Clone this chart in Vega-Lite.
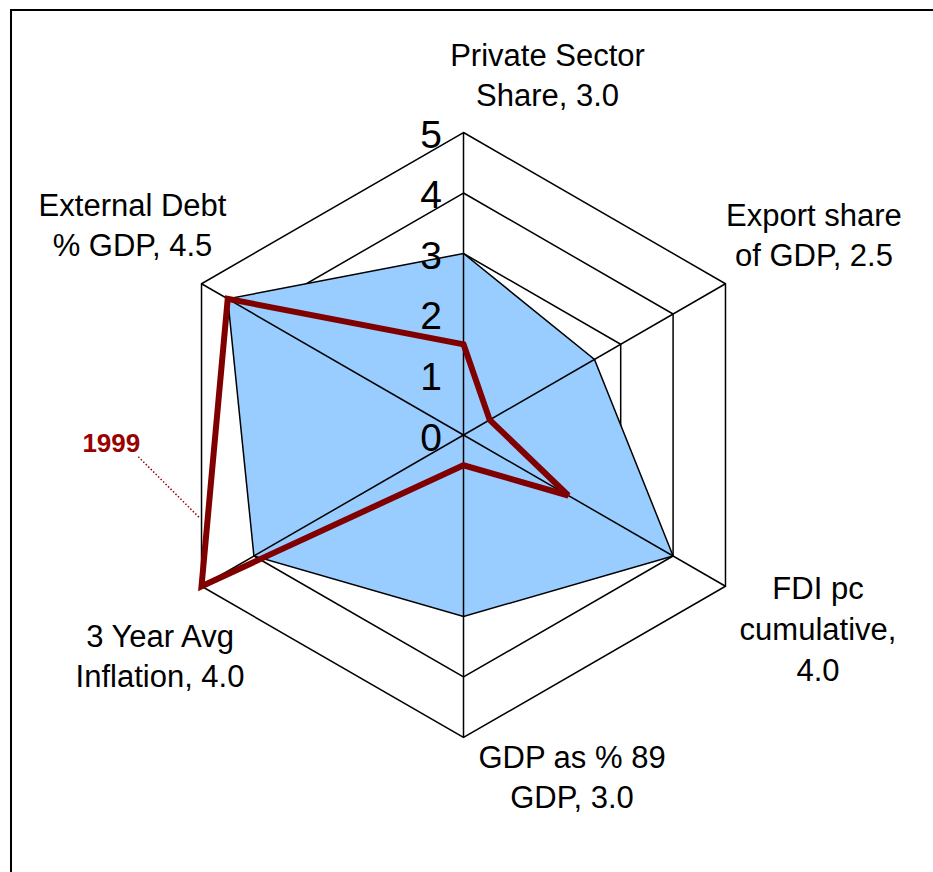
{
  "$schema": "https://vega.github.io/schema/vega-lite/v6.json",
  "width": 933,
  "height": 872,
  "autosize": "none",
  "padding": 0,
  "background": "white",
  "config": {"view": {"stroke": null}, "font": "Liberation Sans", "text": {"font": "Liberation Sans"}},
  "datasets": {
    "axes": [
      {"k": 0, "axis": "Private Sector Share", "label": "Private Sector\nShare, 3.0", "score": 3.0, "y1999": 1.5},
      {"k": 1, "axis": "Export share of GDP", "label": "Export share\nof GDP, 2.5", "score": 2.5, "y1999": 0.5},
      {"k": 2, "axis": "FDI pc cumulative", "label": "FDI pc\ncumulative,\n4.0", "score": 4.0, "y1999": 2.0},
      {"k": 3, "axis": "GDP as % 89 GDP", "label": "GDP as % 89\nGDP, 3.0", "score": 3.0, "y1999": 0.5},
      {"k": 4, "axis": "3 Year Avg Inflation", "label": "3 Year Avg\nInflation, 4.0", "score": 4.0, "y1999": 5.0},
      {"k": 5, "axis": "External Debt % GDP", "label": "External Debt\n% GDP, 4.5", "score": 4.5, "y1999": 4.5}
    ],
    "grid": [
      {"level": 1, "k": [0, 1, 2, 3, 4, 5]},
      {"level": 2, "k": [0, 1, 2, 3, 4, 5]},
      {"level": 3, "k": [0, 1, 2, 3, 4, 5]},
      {"level": 4, "k": [0, 1, 2, 3, 4, 5]},
      {"level": 5, "k": [0, 1, 2, 3, 4, 5]}
    ],
    "ticks": [{"tick": 0}, {"tick": 1}, {"tick": 2}, {"tick": 3}, {"tick": 4}, {"tick": 5}],
    "annotation": [{"series": "1999", "x1": -5.375, "y1": -0.359, "x2": -4.355, "y2": -1.377}],
    "frame": [{"left": -7.479, "top": 7.025, "right": 9, "bottom": -9}]
  },
  "layer": [
    {
      "data": {"name": "frame"},
      "mark": {"type": "rect", "fillOpacity": 0, "stroke": "#000000", "strokeWidth": 2},
      "encoding": {
        "x": {"field": "left", "type": "quantitative", "scale": {"domain": [-7.661, 7.76], "nice": false, "zero": false}, "axis": null},
        "x2": {"field": "right"},
        "y": {"field": "top", "type": "quantitative", "scale": {"domain": [-7.223, 7.19], "nice": false, "zero": false}, "axis": null},
        "y2": {"field": "bottom"}
      }
    },
    {
      "data": {"name": "grid"},
      "transform": [
        {"flatten": ["k"]},
        {"calculate": "PI/2 - datum.k*PI/3", "as": "a"},
        {"calculate": "datum.level*cos(datum.a)", "as": "x"},
        {"calculate": "datum.level*sin(datum.a)", "as": "y"}
      ],
      "mark": {"type": "line", "interpolate": "linear-closed", "color": "#000000", "strokeWidth": 1.5},
      "encoding": {
        "x": {"field": "x", "type": "quantitative", "scale": {"domain": [-7.661, 7.76], "nice": false, "zero": false}, "axis": null},
        "y": {"field": "y", "type": "quantitative", "scale": {"domain": [-7.223, 7.19], "nice": false, "zero": false}, "axis": null},
        "detail": {"field": "level", "type": "nominal"},
        "order": {"field": "k", "type": "quantitative"}
      }
    },
    {
      "data": {"name": "axes"},
      "transform": [
        {"calculate": "PI/2 - datum.k*PI/3", "as": "a"},
        {"calculate": "datum.score*cos(datum.a)", "as": "x"},
        {"calculate": "datum.score*sin(datum.a)", "as": "y"}
      ],
      "mark": {"type": "line", "interpolate": "linear-closed", "fill": "#99CCFF", "stroke": "#000000", "strokeWidth": 1.5},
      "encoding": {
        "x": {"field": "x", "type": "quantitative", "scale": {"domain": [-7.661, 7.76], "nice": false, "zero": false}, "axis": null},
        "y": {"field": "y", "type": "quantitative", "scale": {"domain": [-7.223, 7.19], "nice": false, "zero": false}, "axis": null},
        "order": {"field": "k", "type": "quantitative"}
      }
    },
    {
      "data": {"name": "axes"},
      "transform": [
        {"calculate": "PI/2 - datum.k*PI/3", "as": "a"},
        {"calculate": "5*cos(datum.a)", "as": "x"},
        {"calculate": "5*sin(datum.a)", "as": "y"},
        {"calculate": "0", "as": "cx"},
        {"calculate": "0", "as": "cy"}
      ],
      "mark": {"type": "rule", "color": "#000000", "strokeWidth": 1.5},
      "encoding": {
        "x": {"field": "cx", "type": "quantitative", "scale": {"domain": [-7.661, 7.76], "nice": false, "zero": false}, "axis": null},
        "y": {"field": "cy", "type": "quantitative", "scale": {"domain": [-7.223, 7.19], "nice": false, "zero": false}, "axis": null},
        "x2": {"field": "x"},
        "y2": {"field": "y"}
      }
    },
    {
      "data": {"name": "axes"},
      "transform": [
        {"calculate": "PI/2 - datum.k*PI/3", "as": "a"},
        {"calculate": "datum.y1999*cos(datum.a)", "as": "x"},
        {"calculate": "datum.y1999*sin(datum.a)", "as": "y"}
      ],
      "mark": {"type": "line", "interpolate": "linear-closed", "color": "#800000", "strokeWidth": 6, "strokeJoin": "miter"},
      "encoding": {
        "x": {"field": "x", "type": "quantitative", "scale": {"domain": [-7.661, 7.76], "nice": false, "zero": false}, "axis": null},
        "y": {"field": "y", "type": "quantitative", "scale": {"domain": [-7.223, 7.19], "nice": false, "zero": false}, "axis": null},
        "order": {"field": "k", "type": "quantitative"}
      }
    },
    {
      "data": {"name": "ticks"},
      "transform": [{"calculate": "0", "as": "cx"}],
      "mark": {"type": "text", "align": "right", "baseline": "alphabetic", "dx": -21.5, "dy": 15.5, "fontSize": 39, "color": "#000000"},
      "encoding": {
        "x": {"field": "cx", "type": "quantitative", "scale": {"domain": [-7.661, 7.76], "nice": false, "zero": false}, "axis": null},
        "y": {"field": "tick", "type": "quantitative", "scale": {"domain": [-7.223, 7.19], "nice": false, "zero": false}, "axis": null},
        "text": {"field": "tick", "type": "quantitative", "format": "d"}
      }
    },
    {
      "data": {"name": "axes"},
      "transform": [
        {"filter": "datum.k == 0"},
        {"calculate": "PI/2 - datum.k*PI/3", "as": "a"},
        {"calculate": "5*cos(datum.a)", "as": "x"},
        {"calculate": "5*sin(datum.a)", "as": "y"}
      ],
      "mark": {"type": "text", "align": "center", "baseline": "alphabetic", "lineBreak": "\n", "lineHeight": 40, "fontSize": 31, "color": "#000000", "dx": 84, "dy": -66.8},
      "encoding": {
        "x": {"field": "x", "type": "quantitative", "scale": {"domain": [-7.661, 7.76], "nice": false, "zero": false}, "axis": null},
        "y": {"field": "y", "type": "quantitative", "scale": {"domain": [-7.223, 7.19], "nice": false, "zero": false}, "axis": null},
        "text": {"field": "label", "type": "nominal"}
      }
    },
    {
      "data": {"name": "axes"},
      "transform": [
        {"filter": "datum.k == 1"},
        {"calculate": "PI/2 - datum.k*PI/3", "as": "a"},
        {"calculate": "5*cos(datum.a)", "as": "x"},
        {"calculate": "5*sin(datum.a)", "as": "y"}
      ],
      "mark": {"type": "text", "align": "center", "baseline": "alphabetic", "lineBreak": "\n", "lineHeight": 40, "fontSize": 31, "color": "#000000", "dx": 88.5, "dy": -57.75},
      "encoding": {
        "x": {"field": "x", "type": "quantitative", "scale": {"domain": [-7.661, 7.76], "nice": false, "zero": false}, "axis": null},
        "y": {"field": "y", "type": "quantitative", "scale": {"domain": [-7.223, 7.19], "nice": false, "zero": false}, "axis": null},
        "text": {"field": "label", "type": "nominal"}
      }
    },
    {
      "data": {"name": "axes"},
      "transform": [
        {"filter": "datum.k == 2"},
        {"calculate": "PI/2 - datum.k*PI/3", "as": "a"},
        {"calculate": "5*cos(datum.a)", "as": "x"},
        {"calculate": "5*sin(datum.a)", "as": "y"}
      ],
      "mark": {"type": "text", "align": "center", "baseline": "alphabetic", "lineBreak": "\n", "lineHeight": 41, "fontSize": 31, "color": "#000000", "dx": 92.5, "dy": 13},
      "encoding": {
        "x": {"field": "x", "type": "quantitative", "scale": {"domain": [-7.661, 7.76], "nice": false, "zero": false}, "axis": null},
        "y": {"field": "y", "type": "quantitative", "scale": {"domain": [-7.223, 7.19], "nice": false, "zero": false}, "axis": null},
        "text": {"field": "label", "type": "nominal"}
      }
    },
    {
      "data": {"name": "axes"},
      "transform": [
        {"filter": "datum.k == 3"},
        {"calculate": "PI/2 - datum.k*PI/3", "as": "a"},
        {"calculate": "5*cos(datum.a)", "as": "x"},
        {"calculate": "5*sin(datum.a)", "as": "y"}
      ],
      "mark": {"type": "text", "align": "center", "baseline": "alphabetic", "lineBreak": "\n", "lineHeight": 40, "fontSize": 31, "color": "#000000", "dx": 108.5, "dy": 30.5},
      "encoding": {
        "x": {"field": "x", "type": "quantitative", "scale": {"domain": [-7.661, 7.76], "nice": false, "zero": false}, "axis": null},
        "y": {"field": "y", "type": "quantitative", "scale": {"domain": [-7.223, 7.19], "nice": false, "zero": false}, "axis": null},
        "text": {"field": "label", "type": "nominal"}
      }
    },
    {
      "data": {"name": "axes"},
      "transform": [
        {"filter": "datum.k == 4"},
        {"calculate": "PI/2 - datum.k*PI/3", "as": "a"},
        {"calculate": "5*cos(datum.a)", "as": "x"},
        {"calculate": "5*sin(datum.a)", "as": "y"}
      ],
      "mark": {"type": "text", "align": "center", "baseline": "alphabetic", "lineBreak": "\n", "lineHeight": 40, "fontSize": 31, "color": "#000000", "dx": -41.5, "dy": 61},
      "encoding": {
        "x": {"field": "x", "type": "quantitative", "scale": {"domain": [-7.661, 7.76], "nice": false, "zero": false}, "axis": null},
        "y": {"field": "y", "type": "quantitative", "scale": {"domain": [-7.223, 7.19], "nice": false, "zero": false}, "axis": null},
        "text": {"field": "label", "type": "nominal"}
      }
    },
    {
      "data": {"name": "axes"},
      "transform": [
        {"filter": "datum.k == 5"},
        {"calculate": "PI/2 - datum.k*PI/3", "as": "a"},
        {"calculate": "5*cos(datum.a)", "as": "x"},
        {"calculate": "5*sin(datum.a)", "as": "y"}
      ],
      "mark": {"type": "text", "align": "center", "baseline": "alphabetic", "lineBreak": "\n", "lineHeight": 40, "fontSize": 31, "color": "#000000", "dx": -69, "dy": -67.75},
      "encoding": {
        "x": {"field": "x", "type": "quantitative", "scale": {"domain": [-7.661, 7.76], "nice": false, "zero": false}, "axis": null},
        "y": {"field": "y", "type": "quantitative", "scale": {"domain": [-7.223, 7.19], "nice": false, "zero": false}, "axis": null},
        "text": {"field": "label", "type": "nominal"}
      }
    },
    {
      "data": {"name": "annotation"},
      "mark": {"type": "rule", "color": "#990000", "strokeWidth": 1.5, "strokeDash": [1.5, 2]},
      "encoding": {
        "x": {"field": "x1", "type": "quantitative", "scale": {"domain": [-7.661, 7.76], "nice": false, "zero": false}, "axis": null},
        "y": {"field": "y1", "type": "quantitative", "scale": {"domain": [-7.223, 7.19], "nice": false, "zero": false}, "axis": null},
        "x2": {"field": "x2"},
        "y2": {"field": "y2"}
      }
    },
    {
      "data": {"name": "annotation"},
      "mark": {"type": "text", "align": "center", "baseline": "alphabetic", "fontSize": 26, "fontWeight": "bold", "color": "#990000", "dx": -27, "dy": -5},
      "encoding": {
        "x": {"field": "x1", "type": "quantitative", "scale": {"domain": [-7.661, 7.76], "nice": false, "zero": false}, "axis": null},
        "y": {"field": "y1", "type": "quantitative", "scale": {"domain": [-7.223, 7.19], "nice": false, "zero": false}, "axis": null},
        "text": {"field": "series", "type": "nominal"}
      }
    }
  ]
}
